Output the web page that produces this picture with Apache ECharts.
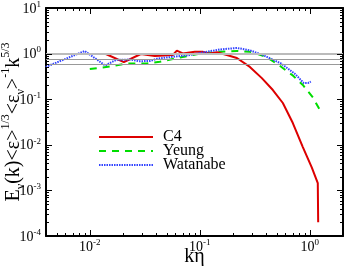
<!DOCTYPE html>
<html>
<head>
<meta charset="utf-8">
<script src="https://cdn.jsdelivr.net/npm/echarts@6/dist/echarts.min.js"></script>
<style>html,body{margin:0;padding:0;background:#fff}#c{width:354px;height:266px}</style>
</head>
<body>
<div id="c"></div>
<script>
// Data (k*eta, compensated spectrum)
var c4K = [0.0070, 0.0140, 0.0204, 0.0291, 0.039, 0.0569, 0.0618, 0.070, 0.090, 0.106, 0.123, 0.143, 0.176, 0.217, 0.285, 0.366, 0.461, 0.568, 0.70, 0.863, 1.04, 1.18, 1.19];
var c4V = [0.98, 0.98, 0.65, 0.98, 0.89, 0.93, 1.16, 1.01, 1.10, 1.10, 1.00, 1.07, 0.93, 0.80, 0.51, 0.29, 0.159, 0.0826, 0.030, 0.0089, 0.0032, 0.00145, 0.0002];
var yeungK = [0.010, 0.0152, 0.0217, 0.033, 0.0433, 0.0658, 0.10, 0.152, 0.217, 0.285, 0.398, 0.522, 0.70, 0.863, 1.065, 1.285];
var yeungV = [0.46, 0.52, 0.61, 0.61, 0.66, 0.82, 1.00, 1.10, 1.14, 1.10, 0.86, 0.56, 0.33, 0.205, 0.109, 0.0486];
var watK = [0.00398, 0.0090, 0.0138, 0.0174, 0.0236, 0.0279, 0.0351, 0.0415, 0.0593, 0.0811, 0.111, 0.152, 0.217, 0.285, 0.374, 0.545, 0.731, 0.881, 0.96, 1.02];
var watV = [0.51, 1.14, 0.55, 0.73, 0.74, 0.68, 0.69, 0.78, 0.86, 0.93, 1.08, 1.23, 1.33, 1.18, 0.93, 0.61, 0.36, 0.226, 0.226, 0.244];
var refLevels = [1.0, 0.75, 0.59];
var seriesNames = ['C4', 'Yeung', 'Watanabe'];
var xRange = [0.004, 2];
var yRange = [1e-4, 10];

function pairs(k, v) { return k.map(function (x, i) { return [x, v[i]]; }); }
function isDecade(v) { var l = Math.log10(v); return Math.abs(l - Math.round(l)) < 1e-6; }
function powLabel(v) {
  if (!isDecade(v)) return '';
  return '{b|10}{s|' + Math.round(Math.log10(v)) + '}';
}
var FONT = 'Liberation Serif';
var labelRich = {
  b: { fontFamily: FONT, fontSize: 14, color: '#000', lineHeight: 16, verticalAlign: 'bottom' },
  s: { fontFamily: FONT, fontSize: 9, color: '#000', lineHeight: 16, verticalAlign: 'top' }
};

function tickValues(lo, hi) {
  var out = [];
  for (var e = Math.floor(Math.log10(lo)) - 1; e <= Math.ceil(Math.log10(hi)); e++) {
    for (var d = 1; d <= 9; d++) {
      var v = d * Math.pow(10, e);
      if (v >= lo * 0.9999 && v <= hi * 1.0001) out.push({ v: v, major: d === 1 });
    }
  }
  return out;
}

var chart = echarts.init(document.getElementById('c'), null, { renderer: 'canvas' });
var axisLine = { show: true, lineStyle: { color: '#000', width: 2 } };
var option = {
  animation: false,
  backgroundColor: '#fff',
  grid: { left: 46, right: 11, top: 8, bottom: 30, containLabel: false, outerBoundsMode: 'none' },
  legend: {
    data: seriesNames,
    orient: 'vertical',
    left: 93,
    top: 124,
    itemWidth: 54,
    itemHeight: 4,
    itemGap: -2,
    itemStyle: { opacity: 0 },
    textStyle: { fontFamily: FONT, fontSize: 16, color: '#000', padding: [0, 0, 0, 5] }
  },
  xAxis: [{
    type: 'log', logBase: 10, min: xRange[0], max: xRange[1],
    name: 'kη', nameLocation: 'middle', nameGap: 11, nameMoveOverlap: false,
    nameTextStyle: { fontFamily: FONT, fontSize: 20, color: '#000' },
    axisLine: axisLine, axisTick: { show: false }, splitLine: { show: false },
    axisLabel: { formatter: powLabel, rich: labelRich, margin: 2, showMinLabel: true, showMaxLabel: true }
  }, {
    type: 'log', logBase: 10, min: xRange[0], max: xRange[1], position: 'top',
    axisLine: axisLine, axisTick: { show: false }, splitLine: { show: false }, axisLabel: { show: false }
  }],
  yAxis: [{
    type: 'log', logBase: 10, min: yRange[0], max: yRange[1],
    name: '{a|E}{sub|ν}{a|(k)<ε>}{sup|1/3}{a|<ε}{sub|ν}{a|>}{sup|-1}{a|k}{sup|5/3}',
    nameLocation: 'middle', nameGap: 22, nameMoveOverlap: false,
    nameTextStyle: {
      rich: {
        a: { fontFamily: FONT, fontSize: 20, color: '#000', lineHeight: 24, verticalAlign: 'bottom' },
        sub: { fontFamily: FONT, fontSize: 12, color: '#000', lineHeight: 24, verticalAlign: 'bottom', padding: [0, 0, -3, 0] },
        sup: { fontFamily: FONT, fontSize: 12, color: '#000', lineHeight: 24, verticalAlign: 'top' }
      }
    },
    axisLine: axisLine, axisTick: { show: false }, splitLine: { show: false },
    axisLabel: { formatter: powLabel, rich: labelRich, margin: 5 }
  }, {
    type: 'log', logBase: 10, min: yRange[0], max: yRange[1], position: 'right',
    axisLine: axisLine, axisTick: { show: false }, splitLine: { show: false }, axisLabel: { show: false }
  }],
  series: [
    {
      name: 'C4', type: 'line', data: pairs(c4K, c4V), showSymbol: false, symbol: 'none',
      lineStyle: { color: '#dd0000', width: 2 }, itemStyle: { color: '#dd0000' },
      markLine: {
        silent: true, symbol: 'none', label: { show: false },
        lineStyle: { color: '#999', type: 'solid', width: 1 },
        data: refLevels.map(function (v, i) { return { yAxis: v, lineStyle: i === 0 ? { color: '#bbb', width: 2, type: 'solid' } : { color: '#999', width: 1, type: 'solid' } }; })
      },
      z: 3
    },
    {
      name: 'Yeung', type: 'line', data: pairs(yeungK, yeungV), showSymbol: false, symbol: 'none',
      lineStyle: { color: '#00dd00', width: 2, type: [7, 6] }, itemStyle: { color: '#00dd00' }, z: 2
    },
    {
      name: 'Watanabe', type: 'line', data: pairs(watK, watV), showSymbol: false, symbol: 'none',
      lineStyle: { color: '#3344ff', width: 2, type: [1.5, 1] }, itemStyle: { color: '#3344ff' }, z: 4
    },
    {
      type: 'custom', silent: true, data: [[1, 1]], z: 10, clip: false,
      renderItem: function (params, api) {
        var cs = params.coordSys;
        var kids = [];
        var st = { stroke: '#000', lineWidth: 1 };
        tickValues(xRange[0], xRange[1]).forEach(function (t) {
          var x = Math.round(api.coord([t.v, 1])[0]) + 0.5;
          var L = t.major ? 6 : 3;
          kids.push({ type: 'line', shape: { x1: x, y1: cs.y + cs.height, x2: x, y2: cs.y + cs.height - L }, style: st });
          kids.push({ type: 'line', shape: { x1: x, y1: cs.y, x2: x, y2: cs.y + L }, style: st });
        });
        tickValues(yRange[0], yRange[1]).forEach(function (t) {
          var y = Math.round(api.coord([1, t.v])[1]) + 0.5;
          var L = t.major ? 6 : 3;
          kids.push({ type: 'line', shape: { x1: cs.x, y1: y, x2: cs.x + L, y2: y }, style: st });
          kids.push({ type: 'line', shape: { x1: cs.x + cs.width, y1: y, x2: cs.x + cs.width - L, y2: y }, style: st });
        });
        return { type: 'group', children: kids };
      }
    }
  ]
};
chart.setOption(option);
</script>
</body>
</html>
